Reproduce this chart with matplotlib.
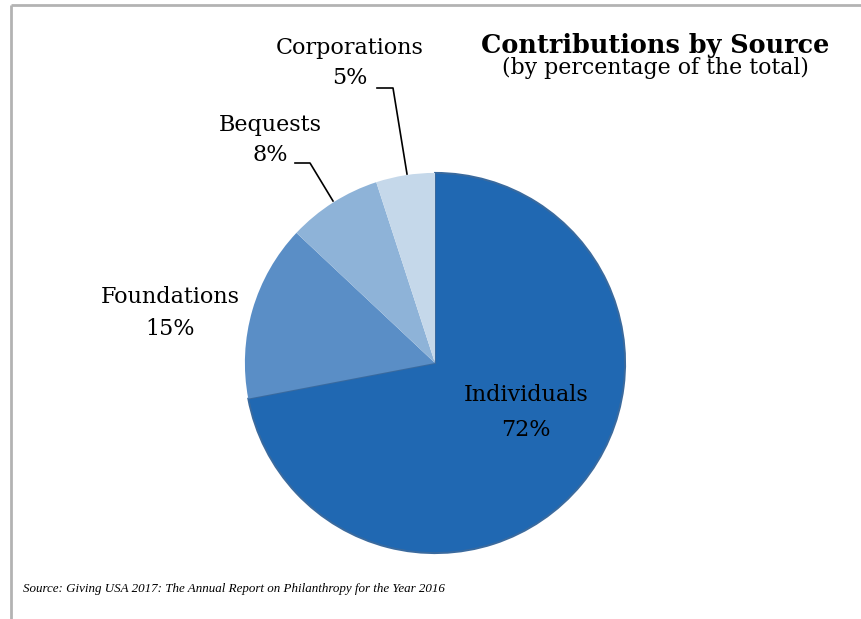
import matplotlib

matplotlib.use('Agg')  # no display
import matplotlib.pyplot as plt

# data
sources = ["Individuals", "Foundations", "Bequests", "Corporations"]
shares = [72, 15, 8, 5]
colors = ["#2068b2", "#5a8ec6", "#8eb3d8", "#c5d8ea"]

title = "Contributions by Source"
subtitle = "(by percentage of the total)"
source_note = "Source: Giving USA 2017: The Annual Report on Philanthropy for the Year 2016"

W, H = 861, 619
fig = plt.figure(figsize=(W / 100, H / 100), dpi=100)
fig.patch.set_facecolor("white")

# pie placed in pixel terms: centre (435, 363), radius 192
cx, cy, r = 435, 363, 192
ax = fig.add_axes([(cx - r) / W, (H - cy - r) / H, 2 * r / W, 2 * r / H])
wedges, _ = ax.pie(shares, colors=colors, startangle=90, counterclock=False,
                   radius=1.0, wedgeprops=dict(linewidth=0))
wedges[0].set_edgecolor("#3a6a9e")
wedges[0].set_linewidth(1.4)
ax.set_xlim(-1.01, 1.01)
ax.set_ylim(-1.01, 1.01)
ax.set_aspect("equal")
ax.axis("off")

# overlay in pixel coordinates for text, leaders and border
ov = fig.add_axes([0, 0, 1, 1], facecolor="none")
ov.set_xlim(0, W)
ov.set_ylim(H, 0)
ov.axis("off")

serif = "DejaVu Serif"
lab = dict(family=serif, fontsize=16, ha="center", va="center", color="black")

label_pos = {
    "Individuals": (526, 395, 430),
    "Foundations": (170, 297, 329),
    "Bequests": (270, 125, 155),
    "Corporations": (350, 48, 78),
}
for name, pct in zip(sources, shares):
    x, y1, y2 = label_pos[name]
    ov.text(x, y1, name, **lab)
    ov.text(x, y2, f"{pct}%", **lab)

# leader lines
ov.plot([377, 393, 407], [88, 88, 174], color="black", lw=1.2)
ov.plot([295, 310, 333], [163, 163, 201], color="black", lw=1.2)

ov.text(655, 46, title, family=serif, fontsize=18.4, fontweight="bold",
        ha="center", va="center")
ov.text(655, 68, subtitle, family=serif, fontsize=15.8, ha="center", va="center")

ov.text(23, 589, source_note, family="Liberation Serif",
        style="italic", fontsize=9.4, ha="left", va="center")

# border (top and left only are visible)
ov.plot([11, W], [5, 5], color="#b3b3b3", lw=2, solid_capstyle="butt")
ov.plot([11, 11], [5, H], color="#b3b3b3", lw=2, solid_capstyle="butt")

fig.savefig("out.png", dpi=100)
